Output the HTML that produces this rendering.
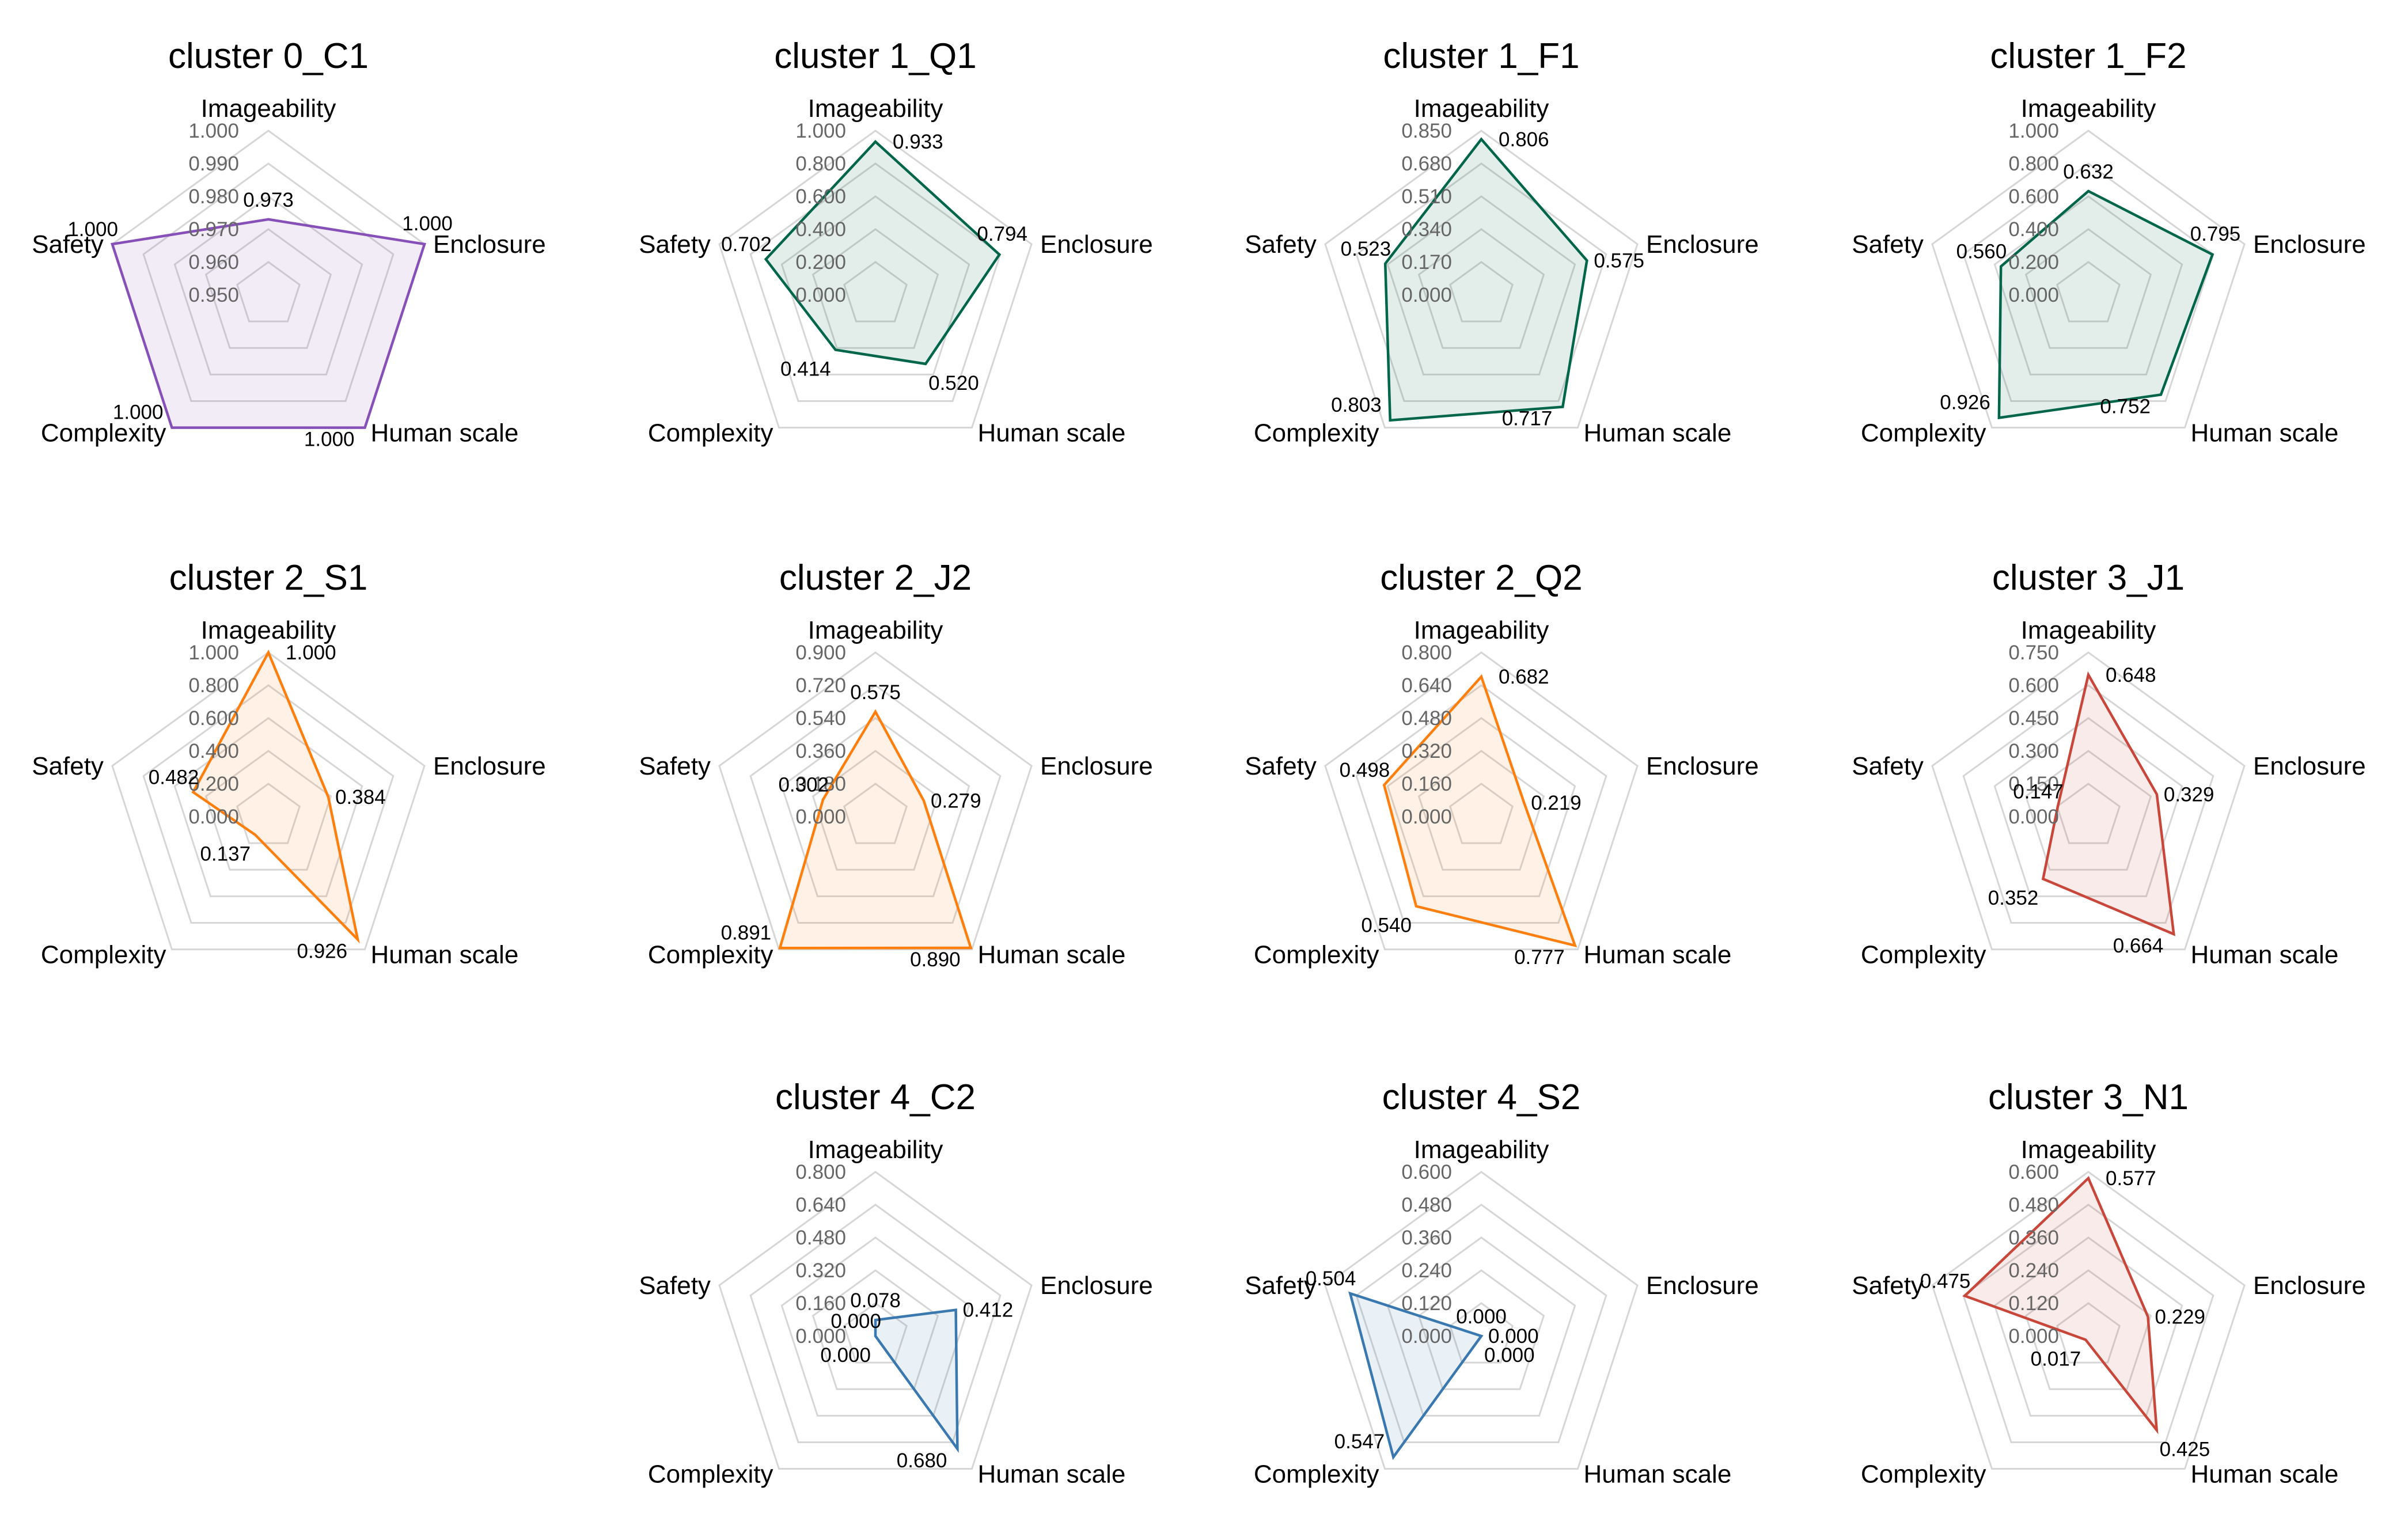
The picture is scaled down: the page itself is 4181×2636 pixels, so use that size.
<!DOCTYPE html>
<html><head><meta charset="utf-8"><style>
html,body{margin:0;padding:0;background:#fff}
svg{display:block;font-family:"Liberation Sans",Arial,sans-serif}
</style></head><body>
<svg id="fig" width="4181" height="2636" viewBox="0 0 4181 2636" xmlns="http://www.w3.org/2000/svg"></svg>
<script>
const axisNames = ["Imageability","Enclosure","Human scale","Complexity","Safety"];
const titles = ["cluster 0_C1","cluster 1_Q1","cluster 1_F1","cluster 1_F2","cluster 2_S1","cluster 2_J2","cluster 2_Q2","cluster 3_J1","cluster 4_C2","cluster 4_S2","cluster 3_N1"];
const rangeMin = [0.95,0,0,0,0,0,0,0,0,0,0];
const rangeMax = [1.0,1.0,0.85,1.0,1.0,0.9,0.8,0.75,0.8,0.6,0.6];
const seriesValues = [
  [0.973,1.000,1.000,1.000,1.000],
  [0.933,0.794,0.520,0.414,0.702],
  [0.806,0.575,0.717,0.803,0.523],
  [0.632,0.795,0.752,0.926,0.560],
  [1.000,0.384,0.926,0.137,0.482],
  [0.575,0.279,0.890,0.891,0.302],
  [0.682,0.219,0.777,0.540,0.498],
  [0.648,0.329,0.664,0.352,0.147],
  [0.078,0.412,0.680,0.000,0.000],
  [0.000,0.000,0.000,0.547,0.504],
  [0.577,0.229,0.425,0.017,0.475]
];
const seriesColors = ["#8650b8","#00664a","#00664a","#00664a","#ff7f0e","#ff7f0e","#ff7f0e","#c8473a","#3a78b0","#3a78b0","#c8473a"];
const cellCol = [0,1,2,3,0,1,2,3,1,2,3];
const cellRow = [0,0,0,0,1,1,1,1,2,2,2];

const NS = "http://www.w3.org/2000/svg";
const svg = document.getElementById("fig");
const colX = [466,1520,2572,3626];
const rowY = [512,1418,2320];
const R = 285;
function mk(tag, attrs, parent){const e=document.createElementNS(NS,tag);for(const k in attrs)e.setAttribute(k,attrs[k]);parent.appendChild(e);return e;}
function dir(i){const a=-Math.PI/2+i*2*Math.PI/5;return [Math.cos(a),Math.sin(a)];}

titles.forEach((t,ci)=>{
  const cx=colX[cellCol[ci]], cy=rowY[cellRow[ci]];
  const lo=rangeMin[ci], hi=rangeMax[ci];
  const rScale=v=>(v-lo)/(hi-lo)*R;
  const g=mk("g",{},svg);
  
  
  const title=mk("text",{x:cx,y:cy-394,"text-anchor":"middle","font-size":62,fill:"#000"},g);
  title.textContent=t;
  
  
  for(let k=1;k<=5;k++){
    const rr=R*k/5;
    const pts=[0,1,2,3,4].map(i=>{const d=dir(i);return (cx+d[0]*rr)+","+(cy+d[1]*rr);}).join(" ");
    const ring=mk("polygon",{points:pts,fill:"none",stroke:"#d6d6d6","stroke-width":3},g);
    
    
  }
  const vals=seriesValues[ci];
  const pp=vals.map((v,i)=>{const d=dir(i);const r=rScale(v);return [cx+d[0]*r,cy+d[1]*r];});
  const poly=mk("polygon",{points:pp.map(p=>p.join(",")).join(" "),fill:seriesColors[ci],"fill-opacity":0.11,stroke:seriesColors[ci],"stroke-width":4.5,"stroke-linejoin":"miter"},g);
  
  
  for(let k=0;k<=5;k++){
    const v=lo+(hi-lo)*k/5;
    const tl=mk("text",{x:cx-51,y:cy-R*k/5+12,"text-anchor":"end","font-size":35,fill:"#666"},g);
    tl.textContent=v.toFixed(3);
    
    
  }
  axisNames.forEach((n,i)=>{
    const d=dir(i);const vx=cx+d[0]*R, vy=cy+d[1]*R;
    let x=vx,y=vy,anc="middle";
    if(i===0){y=vy-39+15;}
    else if(i===1){x=vx+15;y=vy+15;anc="start";}
    else if(i===2){x=vx+10;y=vy+24;anc="start";}
    else if(i===3){x=vx-10;y=vy+24;anc="end";}
    else {x=vx-15;y=vy+15;anc="end";}
    const al=mk("text",{x:x,y:y,"text-anchor":anc,"font-size":44,fill:"#000"},g);
    al.textContent=n;
    
    
  });
  vals.forEach((v,i)=>{
    const [px,py]=pp[i];
    const f=(v-lo)/(hi-lo);
    const high=f>0.75;
    let x=px,y=py,anc="middle";
    if(i===0){ if(high){x=px+30;y=py+12;anc="start";} else {y=py-22;} }
    else if(i===1){ if(high){x=px+5;y=py-24;} else {x=px+12;y=py+12;anc="start";} }
    else if(i===2){ if(high){x=px-18;y=py+32;anc="end";} else {x=px+5;y=py+45;anc="start";} }
    else if(i===3){ if(high){x=px-15;y=py-15;anc="end";} else {x=px-8;y=py+45;anc="end";} }
    else { x=px+10;y=py-14;anc="end"; }
    const vl=mk("text",{x:x,y:y,"text-anchor":anc,"font-size":35,fill:"#000"},g);
    vl.textContent=v.toFixed(3);
    
    
  });
});
</script>
</body></html>
